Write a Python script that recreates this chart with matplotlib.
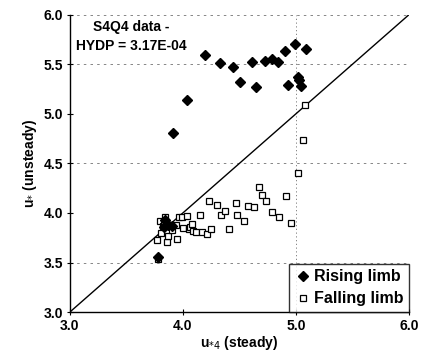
import numpy as np
import matplotlib.pyplot as plt

plt.rcParams['font.family'] = ['Liberation Sans', 'DejaVu Sans']

# rising limb (filled diamonds)
rise_x = [3.78, 3.83, 3.84, 3.87, 3.90, 3.91, 4.04, 4.20, 4.33, 4.44, 4.51, 4.61,
          4.65, 4.73, 4.79, 4.84, 4.90, 4.93, 4.99, 5.02, 5.03, 5.05, 5.09]
rise_y = [3.56, 3.86, 3.93, 3.88, 3.87, 4.81, 5.14, 5.59, 5.51, 5.47, 5.32, 5.52,
          5.27, 5.53, 5.55, 5.52, 5.64, 5.29, 5.71, 5.37, 5.34, 5.28, 5.66]

# falling limb (open squares)
fall_x = [3.77, 3.78, 3.80, 3.81, 3.82, 3.83, 3.84, 3.86, 3.87, 3.90, 3.94, 3.95,
          3.97, 3.99, 4.00, 4.04, 4.05, 4.06, 4.08, 4.09, 4.12, 4.15, 4.17, 4.21,
          4.23, 4.25, 4.30, 4.34, 4.37, 4.41, 4.47, 4.48, 4.54, 4.58, 4.63, 4.67,
          4.70, 4.74, 4.79, 4.85, 4.91, 4.96, 5.02, 5.06, 5.08]
fall_y = [3.73, 3.54, 3.92, 3.80, 3.87, 3.90, 3.96, 3.71, 3.77, 3.83, 3.88, 3.74,
          3.96, 3.96, 3.85, 3.97, 3.84, 3.86, 3.89, 3.82, 3.81, 3.98, 3.81, 3.79,
          4.12, 3.84, 4.08, 3.98, 4.02, 3.84, 4.10, 3.98, 3.92, 4.07, 4.06, 4.26,
          4.18, 4.12, 4.01, 3.96, 4.17, 3.90, 4.40, 4.74, 5.09]

x_ticks = [3.0, 4.0, 5.0, 6.0]
y_ticks = [3.0, 3.5, 4.0, 4.5, 5.0, 5.5, 6.0]
# gridlines that survive in the scan
h_grid = [3.5, 4.5, 5.5, 6.0]
v_grid = [5.0, 6.0]

fig = plt.figure(figsize=(4.21, 3.62), dpi=100)
ax = fig.add_axes([0.166, 0.138, 0.805, 0.821])

for g in h_grid:
    ax.axhline(g, ls=(0, (3, 5)), color='0.45', lw=0.6, zorder=1)
for g in v_grid:
    ax.axvline(g, ls=(0, (1.5, 3)), color='0.45', lw=0.6, zorder=1)

ax.plot([3, 6], [3, 6], color='black', lw=1.0, zorder=2)
ax.plot(fall_x, fall_y, 's', ms=5, mfc='white', mec='black', mew=0.9,
        label='Falling limb', zorder=3)
ax.plot(rise_x, rise_y, 'D', ms=5.2, mfc='black', mec='black',
        label='Rising limb', zorder=4)

ax.set_xlim(3, 6)
ax.set_ylim(3, 6)
ax.set_xticks(x_ticks)
ax.set_yticks(y_ticks)
ax.set_xticklabels([f'{v:.1f}' for v in x_ticks], fontweight='bold', fontsize=10)
ax.set_yticklabels([f'{v:.1f}' for v in y_ticks], fontweight='bold', fontsize=10)
ax.tick_params(direction='inout', length=4, width=0.8, pad=3)

for s in ['top', 'right']:
    ax.spines[s].set_visible(False)
for s in ['left', 'bottom']:
    ax.spines[s].set_linewidth(1.0)

ax.set_xlabel('u$_{*4}$ (steady)', fontweight='bold', fontsize=10, labelpad=1)
ax.set_ylabel('u$_{*}$ (unsteady)', fontweight='bold', fontsize=10, labelpad=3)

ax.text(3.54, 5.78, 'S4Q4 data -\nHYDP = 3.17E-04', ha='center', va='center',
        fontsize=10, fontweight='bold', linespacing=1.45)

handles, labels = ax.get_legend_handles_labels()
leg = ax.legend(handles[::-1], labels[::-1], loc='lower right',
                prop={'weight': 'bold', 'size': 11.5}, frameon=True, fancybox=False,
                edgecolor='black', borderaxespad=0.0, handletextpad=0.2,
                handlelength=1.0, borderpad=0.35, labelspacing=0.45)
leg.get_frame().set_linewidth(1.0)

fig.savefig('out.png', dpi=100)
